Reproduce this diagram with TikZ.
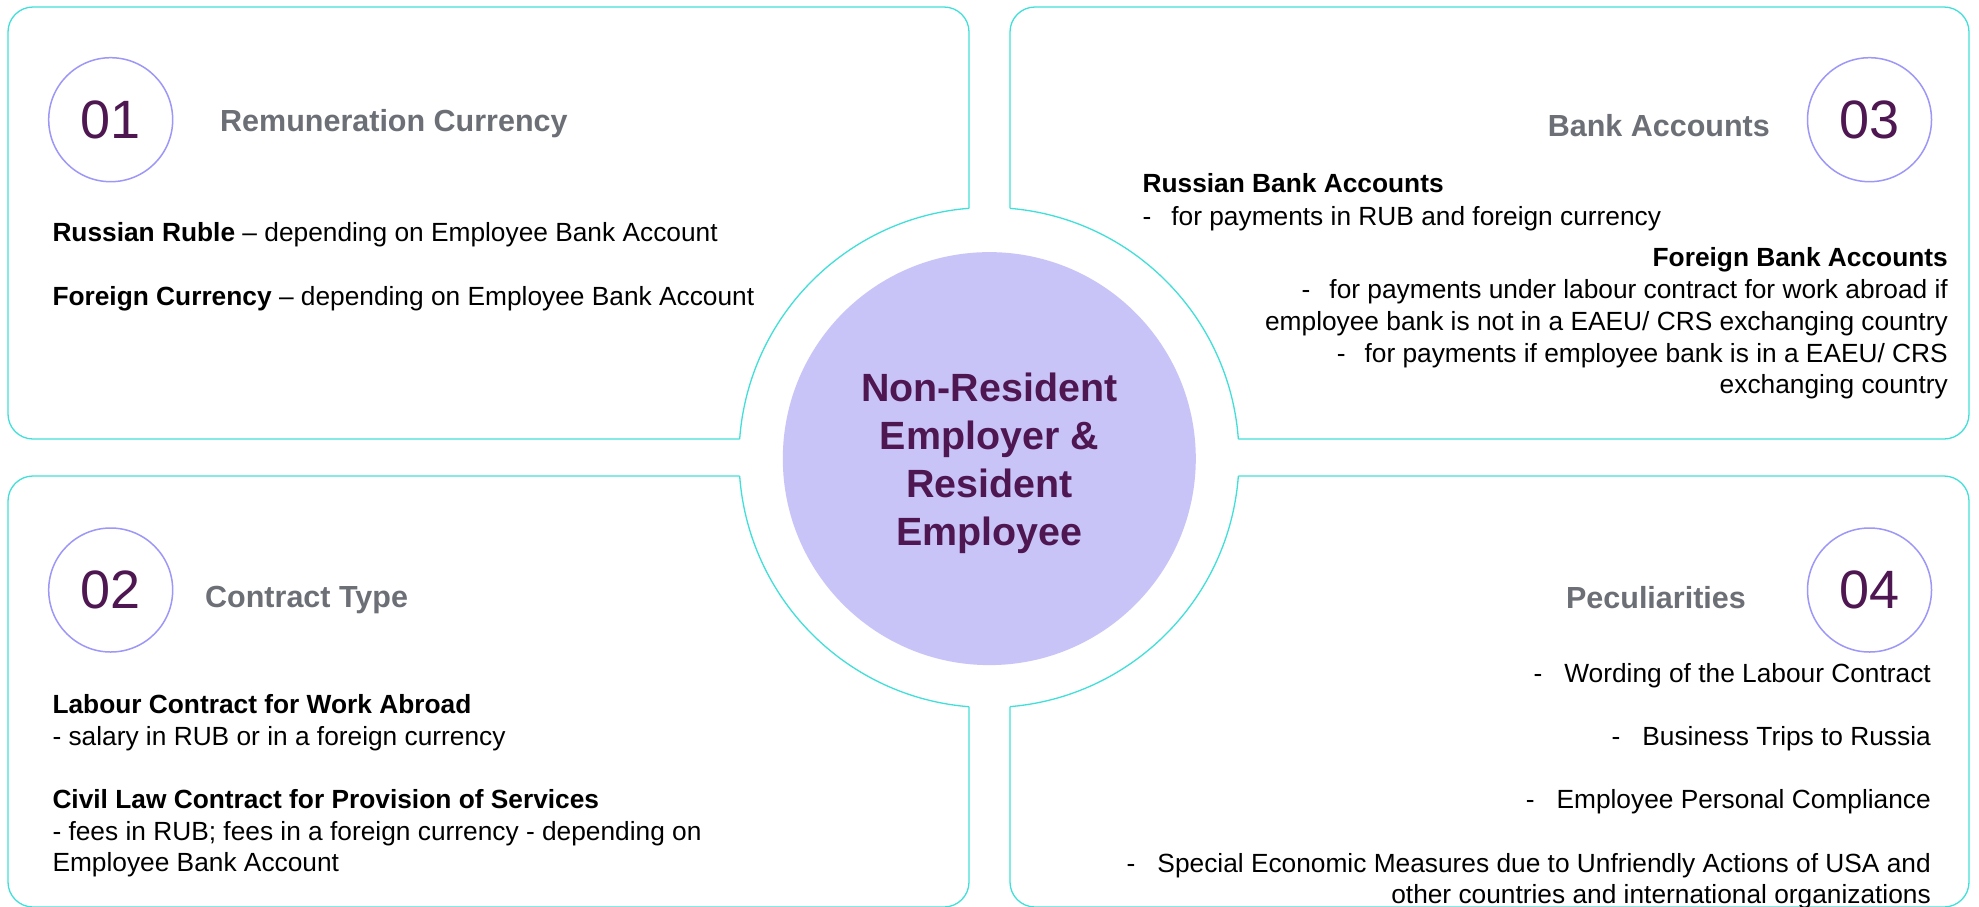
\documentclass[tikz,border=0pt]{standalone}
\usepackage{fontspec}
\setmainfont{Liberation Sans}
\definecolor{panelline}{HTML}{41DFD9}
\definecolor{ringcol}{HTML}{9D97F8}
\definecolor{deep}{HTML}{4F1752}
\definecolor{titlegray}{HTML}{6C6F76}
\definecolor{hubfill}{HTML}{C9C4F7}
\tikzset{
  body/.style={inner sep=0pt, font=\fontsize{26.3}{32}\selectfont, text=black},
  ttl/.style={inner sep=0pt, font=\fontsize{30.5}{36}\selectfont\bfseries, text=titlegray},
  numring/.style={circle, draw=ringcol, line width=1.5pt, minimum size=124pt, inner sep=0pt, font=\fontsize{54}{60}\selectfont, text=deep},
  hubtext/.style={inner sep=0pt, font=\fontsize{39.4}{48}\selectfont\bfseries, text=deep, anchor=base},
  panelstroke/.style={draw=panelline, line width=1.3pt},
}
\newcommand{\dashgap}[1]{-\hspace{#1}}
\begin{document}
\begin{tikzpicture}[x=1pt,y=-1pt]
\useasboundingbox[fill=white] (0,0) rectangle (1979,906);
\coordinate (hubc) at (989,457.5);
% panel outlines outside the cut-out circle
\begin{scope}[even odd rule]
  \clip (-10,-10) rectangle (1990,920) (hubc) circle[radius=250pt];
  \draw[panelstroke, rounded corners=25pt] (8,7) rectangle (969,439);
  \draw[panelstroke, rounded corners=25pt] (1010,7) rectangle (1969,439);
  \draw[panelstroke, rounded corners=25pt] (8,476) rectangle (969,907);
  \draw[panelstroke, rounded corners=25pt] (1010,476) rectangle (1969,907);
\end{scope}
% cut-out arcs inside the panels
\begin{scope}
  \clip (8,7) rectangle (969,439) (1010,7) rectangle (1969,439)
        (8,476) rectangle (969,907) (1010,476) rectangle (1969,907);
  \draw[panelstroke] (hubc) circle[radius=250pt];
\end{scope}
% hub
\node[circle, fill=hubfill, minimum size=413pt, inner sep=0pt] (hub) at (989.3,458.6) {};
\node[hubtext] (h1) at (989.3,401) {Non-Resident};
\node[hubtext] (h2) at (989.3,449.3) {Employer \&};
\node[hubtext] (h3) at (989.3,497.5) {Resident};
\node[hubtext] (h4) at (989.3,545.7) {Employee};
% number rings
\node[numring] (n1) at (110.7,119.7) {01};
\node[numring] (n2) at (110.7,590) {02};
\node[numring] (n3) at (1869.5,119.7) {03};
\node[numring] (n4) at (1869.5,590) {04};
% titles
\node[ttl, anchor=base west] (t1) at (220,131.7) {Remuneration Currency};
\node[ttl, anchor=base west] (t2) at (205,607.3) {Contract Type};
\node[ttl, anchor=base east] (t3) at (1770,136) {Bank Accounts};
\node[ttl, anchor=base east] (t4) at (1746,608) {Peculiarities};
% panel 1
\node[body, anchor=base west] (p1a) at (52.3,241.7) {\textbf{Russian Ruble} – depending on Employee Bank Account};
\node[body, anchor=base west] (p1b) at (52.3,305) {\textbf{Foreign Currency} – depending on Employee Bank Account};
% panel 2
\node[body, anchor=base west] (p2a) at (52.3,713) {\textbf{Labour Contract for Work Abroad}};
\node[body, anchor=base west] (p2b) at (52.3,745) {- salary in RUB or in a foreign currency};
\node[body, anchor=base west] (p2c) at (52.3,808) {\textbf{Civil Law Contract for Provision of Services}};
\node[body, anchor=base west] (p2d) at (52.3,840) {- fees in RUB; fees in a foreign currency - depending on};
\node[body, anchor=base west] (p2e) at (52.3,871) {Employee Bank Account};
% panel 3
\node[body, anchor=base west] (p3a) at (1142.4,192.7) {\textbf{Russian Bank Accounts}};
\node[body, anchor=base west] (p3b) at (1142.4,225) {\dashgap{20pt}for payments in RUB and foreign currency};
\node[body, anchor=base east] (p3c) at (1948,266.7) {\textbf{Foreign Bank Accounts}};
\node[body, anchor=base east] (p3d) at (1948,298.3) {\dashgap{19pt}for payments under labour contract for work abroad if};
\node[body, anchor=base east] (p3e) at (1948,330) {employee bank is not in a EAEU/ CRS exchanging country};
\node[body, anchor=base east] (p3f) at (1948,362.7) {\dashgap{19pt}for payments if employee bank is in a EAEU/ CRS};
\node[body, anchor=base east] (p3g) at (1948,393.3) {exchanging country};
% panel 4
\node[body, anchor=base east] (p4a) at (1931,682.7) {\dashgap{22pt}Wording of the Labour Contract};
\node[body, anchor=base east] (p4b) at (1931,745.7) {\dashgap{22pt}Business Trips to Russia};
\node[body, anchor=base east] (p4c) at (1931,808.3) {\dashgap{22pt}Employee Personal Compliance};
\node[body, anchor=base east] (p4d) at (1931,872.3) {\dashgap{22pt}Special Economic Measures due to Unfriendly Actions of USA and};
\node[body, anchor=base east] (p4e) at (1931,903.3) {other countries and international organizations};
\end{tikzpicture}
\end{document}
